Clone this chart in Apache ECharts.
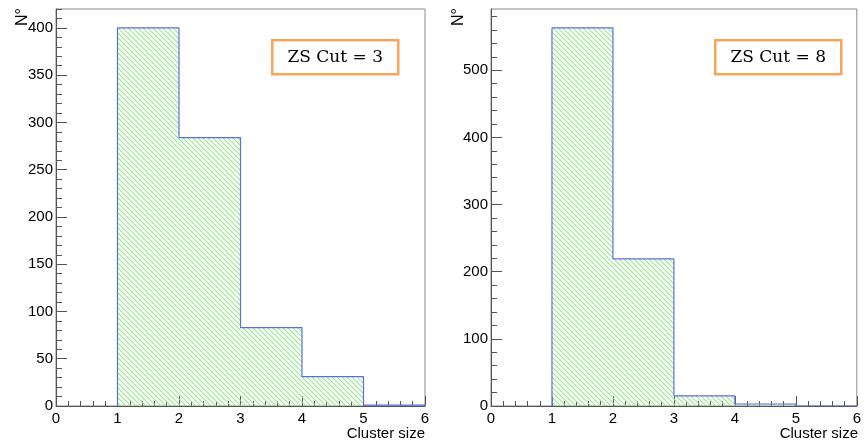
<!DOCTYPE html>
<html>
<head>
<meta charset="utf-8">
<script src="https://cdn.jsdelivr.net/npm/echarts@6/dist/echarts.min.js"></script>
<style>
  html, body { margin: 0; padding: 0; background: #fff; }
  #chart { width: 864px; height: 444px; }
</style>
</head>
<body>
<div id="chart"></div>
<script>
// Histogram bin edges (cluster size) and the entries per bin
const binEdges = [0, 1, 2, 3, 4, 5, 6];
const countsZS3 = [0, 400, 284, 83, 31, 1];
const countsZS8 = [0, 563, 219, 15, 3, 0];
const xTickLabels = ['0', '1', '2', '3', '4', '5', '6'];
const legendZS3 = 'ZS Cut = 3';
const legendZS8 = 'ZS Cut = 8';
const xTitle = 'Cluster size';
const yTitle = 'N°';

// Diagonal hatch fill tile
function hatchPattern() {
  const s = 5;
  const c = document.createElement('canvas');
  c.width = s; c.height = s;
  const g = c.getContext('2d');
  g.strokeStyle = '#96e886';
  g.lineWidth = 1.1;
  g.beginPath();
  g.moveTo(-1, -1); g.lineTo(s + 1, s + 1);
  g.moveTo(-1 - s, -1); g.lineTo(1, s + 1);
  g.moveTo(s - 1, -1); g.lineTo(2 * s + 1, s + 1);
  g.stroke();
  return c;
}
const hatch = { image: hatchPattern(), repeat: 'repeat' };

// Step outline of a histogram
function outline(counts) {
  const pts = [];
  let started = false;
  for (let i = 0; i < counts.length; i++) {
    if (!started && counts[i] === 0) continue;
    if (!started) { pts.push([binEdges[i], 0]); started = true; }
    pts.push([binEdges[i], counts[i]]);
    pts.push([binEdges[i + 1], counts[i]]);
  }
  pts.push([binEdges[counts.length], 0]);
  return pts;
}

const axisColor = '#555';
const labelFont = { fontFamily: 'Liberation Sans', fontSize: 15, color: '#000' };

const panels = [
  { left: 56, width: 369, counts: countsZS3, major: 50, minor: 10 },
  { left: 491, width: 368, counts: countsZS8, major: 100, minor: 20 }
];

function stepValues(step, max) {
  const out = [];
  for (let v = 0; v <= max + 1e-9; v += step) out.push(Math.round(v * 1000) / 1000);
  return out;
}

const grid = [], xAxis = [], yAxis = [], series = [];
panels.forEach((p, k) => {
  const ymax = Math.max(...p.counts) * 1.05;
  grid.push({ left: p.left, top: 9, width: p.width, height: 397, show: true,
    borderColor: '#888', borderWidth: 1, backgroundColor: 'transparent' });
  xAxis.push({
    type: 'value', gridIndex: k, position: 'bottom', min: 0, max: 6, interval: 1,
    axisLine: { show: true, onZero: false, lineStyle: { color: axisColor, width: 1 } },
    axisTick: { show: true, inside: true, length: 10, lineStyle: { color: axisColor } },
    minorTick: { show: true, splitNumber: 5, length: 5, lineStyle: { color: axisColor } },
    splitLine: { show: false },
    axisLabel: Object.assign({ margin: 5, formatter: v => xTickLabels[Math.round(v)] }, labelFont)
  });
  // minor ticks axis
  const minors = stepValues(p.minor, ymax);
  yAxis.push({
    type: 'value', gridIndex: k, position: 'left', min: 0, max: ymax, interval: p.minor,
    axisLine: { show: true, onZero: false, lineStyle: { color: axisColor } },
    axisTick: { show: true, inside: true, length: 6, customValues: minors, lineStyle: { color: axisColor } },
    splitLine: { show: false }, axisLabel: { show: false }
  });
  // major ticks + labels axis
  const majors = stepValues(p.major, ymax);
  yAxis.push({
    type: 'value', gridIndex: k, position: 'left', min: 0, max: ymax, interval: p.major,
    axisLine: { show: false, onZero: false },
    axisTick: { show: true, inside: true, length: 11, customValues: majors, lineStyle: { color: axisColor } },
    splitLine: { show: false },
    axisLabel: Object.assign({ margin: 3, customValues: majors }, labelFont)
  });
  const yi = yAxis.length - 1;
  series.push({
    type: 'custom', xAxisIndex: k, yAxisIndex: yi,
    data: p.counts.map((c, i) => [binEdges[i], binEdges[i + 1], c]),
    renderItem: (params, api) => {
      const a = api.coord([api.value(0), api.value(2)]);
      const b = api.coord([api.value(1), 0]);
      return { type: 'rect', shape: { x: a[0], y: a[1], width: b[0] - a[0], height: b[1] - a[1] },
        style: { fill: hatch, stroke: null } };
    },
    z: 1, silent: true
  });
  series.push({
    type: 'line', xAxisIndex: k, yAxisIndex: yi, data: outline(p.counts),
    showSymbol: false, lineStyle: { color: '#5b6ee1', width: 1.2 }, z: 3, silent: true
  });
});

const legendText = { fontFamily: 'DejaVu Serif', fontSize: 17, fill: '#000' };
const titleFont = '16px Liberation Sans';
const graphic = [
  { type: 'text', x: 15, y: 26, rotation: Math.PI / 2, style: { text: yTitle, font: titleFont, fill: '#000' } },
  { type: 'text', x: 451, y: 26, rotation: Math.PI / 2, style: { text: yTitle, font: titleFont, fill: '#000' } },
  { type: 'text', right: 864 - 425, top: 426, style: { text: xTitle, font: '15px Liberation Sans', fill: '#000' } },
  { type: 'text', right: 864 - 858, top: 426, style: { text: xTitle, font: '15px Liberation Sans', fill: '#000' } },
  { type: 'group', left: 271, top: 39, children: [
    { type: 'rect', shape: { x: 0, y: 0, width: 126, height: 34 }, style: { fill: '#fff', stroke: '#f7a559', lineWidth: 2.5 } },
    { type: 'text', x: 63, y: 17, style: Object.assign({ text: legendZS3, align: 'center', verticalAlign: 'middle' }, legendText) }
  ] },
  { type: 'group', left: 714, top: 39, children: [
    { type: 'rect', shape: { x: 0, y: 0, width: 126, height: 34 }, style: { fill: '#fff', stroke: '#f7a559', lineWidth: 2.5 } },
    { type: 'text', x: 63, y: 17, style: Object.assign({ text: legendZS8, align: 'center', verticalAlign: 'middle' }, legendText) }
  ] }
];

const chart = echarts.init(document.getElementById('chart'), null, { renderer: 'canvas' });
chart.setOption({ animation: false, grid, xAxis, yAxis, series, graphic });
</script>
</body>
</html>
